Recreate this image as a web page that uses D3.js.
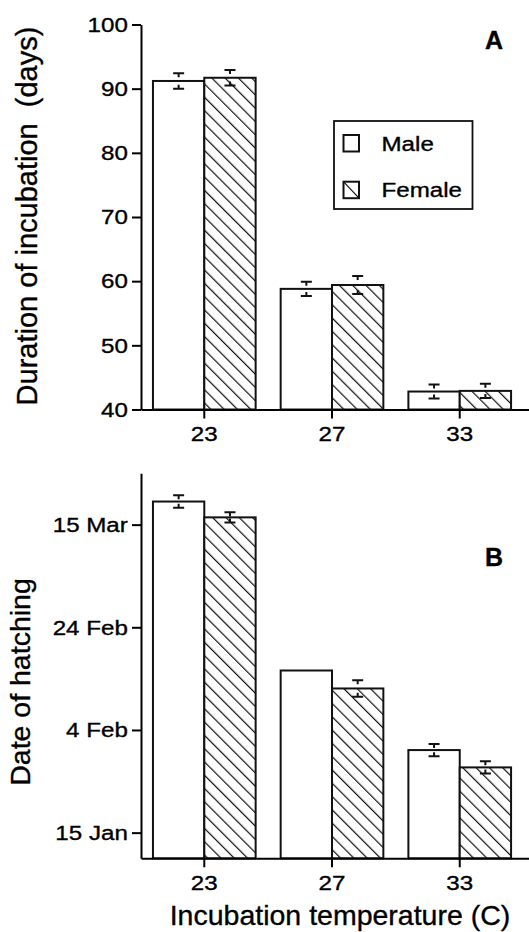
<!DOCTYPE html>
<html>
<head>
<meta charset="utf-8">
<script src="https://cdn.jsdelivr.net/npm/d3@7"></script>
<style>
  body { margin: 0; background: #fff; }
  text { font-family: "Liberation Sans", Arial, Helvetica, sans-serif; fill: #000; stroke: #000; stroke-width: 0.35px; }
</style>
</head>
<body>
<svg id="chart" width="529" height="932"></svg>
<script>
// incubation temperature groups
var temps = ["23", "27", "33"];
var sexes = ["Male", "Female"];

// panel A - duration of incubation (days), mean and error
var durationMale = [91.2, 58.8, 42.8];
var durationFemale = [91.7, 59.4, 42.9];
var durationMaleErr = [1.2, 1.1, 1.1];
var durationFemaleErr = [1.2, 1.4, 1.1];
var durationTicks = [40, 50, 60, 70, 80, 90, 100];

// panel B - date of hatching, mean and error (days)
var hatchMale = ["2000-03-19 12", "2000-02-15 14", "2000-01-31 02"];
var hatchFemale = ["2000-03-16 10", "2000-02-12 02", "2000-01-27 17"];
var hatchMaleErr = [1.2, 0, 1.2];
var hatchFemaleErr = [1.0, 1.6, 1.2];
var hatchDomain = ["2000-01-10 00", "2000-03-25 00"];
var hatchTicks = ["2000-01-15 00", "2000-02-04 00", "2000-02-24 00", "2000-03-15 00"];

var parse = d3.timeParse("%Y-%m-%d %H");
var svg = d3.select("#chart");
var left = 141, right = 529;
var sx = 1.15; // labels in the figure are a bit wide

// hatch pattern
var defs = svg.append("defs");
defs.append("pattern")
  .attr("id", "hatch")
  .attr("patternUnits", "userSpaceOnUse")
  .attr("width", 9.4).attr("height", 10)
  .attr("patternTransform", "rotate(-45)")
  .call(function(p) {
    p.append("rect").attr("width", 9.4).attr("height", 10).attr("fill", "#fff");
    p.append("line").attr("x1", 0.6).attr("x2", 0.6).attr("y1", 0).attr("y2", 10)
      .attr("stroke", "#111").attr("stroke-width", 1.2);
  });

var x = d3.scaleBand().domain(temps).range([left, right])
  .paddingInner(0.196).paddingOuter(0.117).align(0.4);
var xs = d3.scaleBand().domain(sexes).range([0, x.bandwidth()]);

function styleAxis(g) {
  g.select(".domain").attr("stroke-width", 2);
  g.selectAll(".tick line").attr("stroke-width", 2);
  g.selectAll(".tick text")
    .attr("font-size", "21px")
    .attr("font-family", "Liberation Sans, Arial, sans-serif")
    .attr("fill", "#000")
    .attr("transform", "scale(" + sx + ",1)");
}

function drawPanel(rows, y, base, ticks, fmt) {
  var g = svg.append("g");

  g.selectAll(".bar")
    .data(rows)
    .enter()
    .append("rect")
    .attr("class", "bar")
    .attr("x", function(d) { return x(d.temp) + xs(d.sex); })
    .attr("y", function(d) { return y(d.v); })
    .attr("width", xs.bandwidth())
    .attr("height", function(d) { return base - y(d.v); })
    .attr("fill", function(d) { return d.sex == "Male" ? "#fff" : "url(#hatch)"; })
    .attr("stroke", "#111")
    .attr("stroke-width", 2);

  // error bars: caps with short stubs
  g.selectAll(".err")
    .data(rows.filter(function(d) { return d.e > 0; }))
    .enter()
    .append("path")
    .attr("class", "err")
    .attr("fill", "none")
    .attr("stroke", "#111")
    .attr("stroke-width", 2)
    .attr("d", function(d) {
      var cx = x(d.temp) + xs(d.sex) + xs.bandwidth() / 2;
      var yh = y(d.hi), yl = y(d.lo);
      return "M" + (cx - 5.5) + "," + yh + "H" + (cx + 5.5) +
        "M" + cx + "," + yh + "V" + (yh + 4) +
        "M" + (cx - 5.5) + "," + yl + "H" + (cx + 5.5) +
        "M" + cx + "," + yl + "V" + (yl - 4);
    });

  var ya = g.append("g")
    .attr("transform", "translate(" + left + ",0)")
    .call(d3.axisLeft(y).tickValues(ticks).tickFormat(fmt)
      .tickSize(9).tickSizeOuter(0).tickPadding(4));
  styleAxis(ya);
  ya.selectAll(".tick text").attr("x", -13.2 / sx);

  var xa = g.append("g")
    .attr("transform", "translate(0," + base + ")")
    .call(d3.axisBottom(x).tickSize(9).tickSizeOuter(0).tickPadding(8));
  styleAxis(xa);
  return g;
}

// panel A
var yA = d3.scaleLinear().domain([40, 100]).range([409.5, 24.5]);
var rowsA = [];
temps.forEach(function(t, i) {
  rowsA.push({temp: t, sex: "Male", v: durationMale[i], e: durationMaleErr[i],
    lo: durationMale[i] - durationMaleErr[i], hi: durationMale[i] + durationMaleErr[i]});
  rowsA.push({temp: t, sex: "Female", v: durationFemale[i], e: durationFemaleErr[i],
    lo: durationFemale[i] - durationFemaleErr[i], hi: durationFemale[i] + durationFemaleErr[i]});
});
drawPanel(rowsA, yA, 409.5, durationTicks, d3.format("d"));

// panel B
var yB = d3.scaleTime().domain(hatchDomain.map(parse)).range([858.3, 473.3]);
var day = 864e5;
var rowsB = [];
temps.forEach(function(t, i) {
  var m = parse(hatchMale[i]), f = parse(hatchFemale[i]);
  rowsB.push({temp: t, sex: "Male", v: m, e: hatchMaleErr[i],
    lo: new Date(+m - hatchMaleErr[i] * day), hi: new Date(+m + hatchMaleErr[i] * day)});
  rowsB.push({temp: t, sex: "Female", v: f, e: hatchFemaleErr[i],
    lo: new Date(+f - hatchFemaleErr[i] * day), hi: new Date(+f + hatchFemaleErr[i] * day)});
});
drawPanel(rowsB, yB, 858.3, hatchTicks.map(parse), d3.timeFormat("%-d %b"));

// titles
svg.append("text")
  .attr("transform", "translate(36.5,216) rotate(-90)")
  .attr("text-anchor", "middle")
  .attr("font-size", "29px")
  .style("white-space", "pre")
  .text("Duration of incubation  (days)");

svg.append("text")
  .attr("transform", "translate(29.5,682) rotate(-90)")
  .attr("text-anchor", "middle")
  .attr("font-size", "28.5px")
  .text("Date of hatching");

svg.append("text")
  .attr("x", 340).attr("y", 925)
  .attr("text-anchor", "middle")
  .attr("font-size", "28.5px")
  .text("Incubation temperature (C)");

svg.append("text")
  .attr("x", 494).attr("y", 48.5)
  .attr("text-anchor", "middle")
  .attr("font-size", "25px").attr("font-weight", "bold")
  .text("A");

svg.append("text")
  .attr("x", 494).attr("y", 566)
  .attr("text-anchor", "middle")
  .attr("font-size", "25px").attr("font-weight", "bold")
  .text("B");

// legend
var legend = svg.append("g");
legend.append("rect")
  .attr("x", 334).attr("y", 121)
  .attr("width", 138.5).attr("height", 88)
  .attr("fill", "#fff").attr("stroke", "#111").attr("stroke-width", 1.8);

var item = legend.selectAll(".item")
  .data(sexes)
  .enter()
  .append("g")
  .attr("class", "item")
  .attr("transform", function(d, i) { return "translate(343.5," + (135 + i * 46.7) + ")"; });

item.append("rect")
  .attr("width", 15.5).attr("height", 16.5)
  .attr("fill", "#fff").attr("stroke", "#111").attr("stroke-width", 2);

item.filter(function(d) { return d == "Female"; })
  .append("line")
  .attr("x1", 0).attr("y1", 0).attr("x2", 15.5).attr("y2", 16.5)
  .attr("stroke", "#111").attr("stroke-width", 1.2);

item.append("text")
  .attr("transform", "translate(38,15.5) scale(" + sx + ",1)")
  .attr("font-size", "21px")
  .text(function(d) { return d; });
</script>
</body>
</html>
